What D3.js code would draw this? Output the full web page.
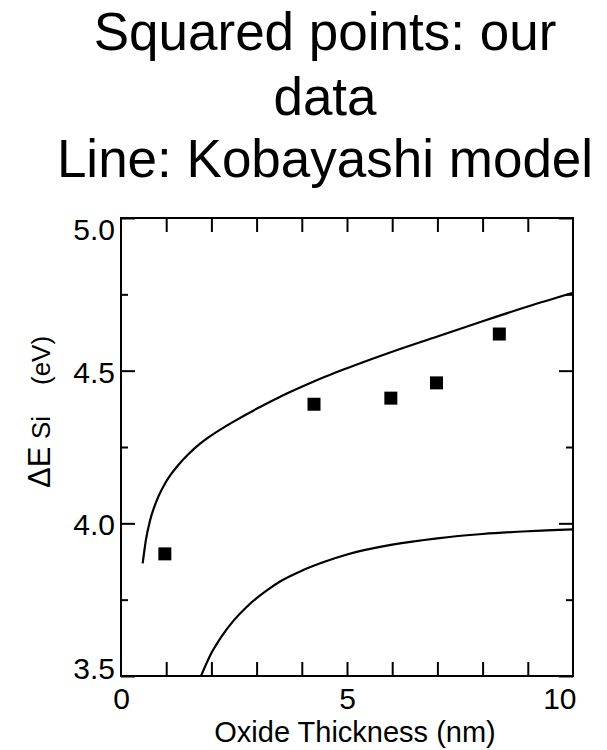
<!DOCTYPE html>
<html>
<head>
<meta charset="utf-8">
<script src="https://cdn.jsdelivr.net/npm/d3@7"></script>
<style>
  html, body { margin: 0; padding: 0; background: #fff; }
  svg { display: block; }
</style>
</head>
<body>
<svg id="chart" width="607" height="750"></svg>
<script>
// ---- data ----
const titleLines = ["Squared points: our", "data", "Line: Kobayashi model"];
const xLabelText = "Oxide Thickness (nm)";
const xTickLabels = [0, 5, 10];
const xTickMarks = [1, 2, 3, 4, 5, 6, 7, 8, 9];
const yTickLabels = [3.5, 4.0, 4.5, 5.0];
const yMinorTicks = [3.75, 4.25, 4.75];

// measured ΔE_Si (squares)
const measuredThickness = [0.97, 4.27, 5.97, 6.98, 8.37];
const measuredDeltaE    = [3.90, 4.39, 4.41, 4.46, 4.62];

// Kobayashi model, upper branch
const upperThickness = [0.48, 0.55, 0.64, 0.80, 1.00, 1.25, 1.50, 1.75, 2.00, 2.50, 3.00, 3.50, 4.00, 4.50, 5.00, 6.00, 7.00, 8.00, 9.00, 10.0];
const upperDeltaE    = [3.869, 3.945, 4.008, 4.078, 4.137, 4.188, 4.228, 4.261, 4.288, 4.334, 4.375, 4.413, 4.447, 4.479, 4.508, 4.562, 4.612, 4.662, 4.710, 4.755];

// Kobayashi model, lower branch
const lowerThickness = [1.77, 2.00, 2.25, 2.50, 2.75, 3.00, 3.25, 3.50, 4.00, 4.50, 5.00, 6.00, 7.00, 8.00, 9.00, 10.0];
const lowerDeltaE    = [3.500, 3.575, 3.635, 3.683, 3.722, 3.755, 3.783, 3.808, 3.845, 3.874, 3.898, 3.930, 3.951, 3.965, 3.974, 3.980];

// ---- layout ----
const font = "'Liberation Sans', Arial, Helvetica, sans-serif";
const svg = d3.select("#chart");
const plot = { left: 121, right: 573, top: 218, bottom: 676 };

const x = d3.scaleLinear().domain([0, 10]).range([plot.left, plot.right]);
const y = d3.scaleLinear().domain([3.5, 5.0]).range([plot.bottom, plot.top]);

// ---- title ----
const titleBaselines = [50, 115, 177];
svg.append("g")
  .selectAll("text")
  .data(titleLines)
  .join("text")
  .attr("x", 325)
  .attr("y", (d, i) => titleBaselines[i])
  .attr("text-anchor", "middle")
  .attr("font-family", font)
  .attr("font-size", 53)
  .attr("fill", "#000")
  .text(d => d);

// ---- axes (ticks point inward) ----
function styleAxis(g) {
  g.select(".domain").remove();
  g.selectAll(".tick line").attr("stroke", "#000").attr("stroke-width", 2);
  g.selectAll(".tick text").attr("font-family", font).attr("font-size", 30).attr("fill", "#000");
}

// bottom: tick marks 1..9, labels at 0, 5, 10
svg.append("g")
  .attr("transform", `translate(0,${plot.bottom})`)
  .call(d3.axisBottom(x).tickValues(xTickMarks).tickSize(-14).tickSizeOuter(0).tickFormat(""))
  .call(styleAxis);

const xLabels = svg.append("g")
  .attr("transform", `translate(0,${plot.bottom})`)
  .call(d3.axisBottom(x).tickValues(xTickLabels).tickSize(0).tickPadding(12).tickFormat(d3.format("d")))
  .call(styleAxis);
xLabels.selectAll(".tick line").remove();
xLabels.selectAll(".tick text")
  .filter(d => d === d3.max(xTickLabels))
  .attr("text-anchor", "end")
  .attr("dx", 3);

// top
svg.append("g")
  .attr("transform", `translate(0,${plot.top})`)
  .call(d3.axisTop(x).tickValues(xTickMarks).tickSize(-14).tickSizeOuter(0).tickFormat(""))
  .call(styleAxis);

// left: labelled major ticks + minor ticks
const yAxisG = svg.append("g")
  .attr("transform", `translate(${plot.left},0)`)
  .call(d3.axisLeft(y).tickValues(yTickLabels).tickSize(-14).tickSizeOuter(0).tickPadding(6).tickFormat(d3.format(".1f")))
  .call(styleAxis);
yAxisG.selectAll(".tick text")
  .attr("dy", d => d === d3.max(yTickLabels) ? "0.73em" : d === d3.min(yTickLabels) ? "0.08em" : "0.38em");

svg.append("g")
  .attr("transform", `translate(${plot.left},0)`)
  .call(d3.axisLeft(y).tickValues(yMinorTicks).tickSize(-7).tickSizeOuter(0).tickFormat(""))
  .call(styleAxis);

// right
svg.append("g")
  .attr("transform", `translate(${plot.right},0)`)
  .call(d3.axisRight(y).tickValues(yTickLabels).tickSize(-14).tickSizeOuter(0).tickFormat(""))
  .call(styleAxis);
svg.append("g")
  .attr("transform", `translate(${plot.right},0)`)
  .call(d3.axisRight(y).tickValues(yMinorTicks).tickSize(-7).tickSizeOuter(0).tickFormat(""))
  .call(styleAxis);

// frame
svg.append("rect")
  .attr("x", x(0)).attr("y", y(5.0))
  .attr("width", x(10) - x(0)).attr("height", y(3.5) - y(5.0))
  .attr("fill", "none").attr("stroke", "#000").attr("stroke-width", 2);

// ---- model curves ----
const line = d3.line()
  .x(d => x(d[0]))
  .y(d => y(d[1]))
  .curve(d3.curveMonotoneX);

[[upperThickness, upperDeltaE], [lowerThickness, lowerDeltaE]].forEach(([xs, ys]) => {
  svg.append("path")
    .datum(d3.zip(xs, ys))
    .attr("d", line)
    .attr("fill", "none")
    .attr("stroke", "#000")
    .attr("stroke-width", 2.2)
    .attr("stroke-linejoin", "round");
});

// ---- measured points ----
svg.append("g")
  .selectAll("path")
  .data(d3.zip(measuredThickness, measuredDeltaE))
  .join("path")
  .attr("transform", d => `translate(${x(d[0])},${y(d[1])})`)
  .attr("d", d3.symbol(d3.symbolSquare, 169))
  .attr("fill", "#000");

// ---- axis titles ----
svg.append("text")
  .attr("x", 355)
  .attr("y", 742)
  .attr("text-anchor", "middle")
  .attr("font-family", font)
  .attr("font-size", 29)
  .attr("fill", "#000")
  .text(xLabelText);

const yTitle = svg.append("text")
  .attr("transform", "translate(50,0) rotate(-90)")
  .attr("font-family", font)
  .attr("fill", "#000");
yTitle.append("tspan").attr("x", -488).attr("y", 0).attr("font-size", 31).text("ΔE");
yTitle.append("tspan").attr("x", -439).attr("y", 0).attr("font-size", 26).text("Si");
yTitle.append("tspan").attr("x", -385).attr("y", 0).attr("font-size", 26).text("(eV)");
</script>
</body>
</html>
